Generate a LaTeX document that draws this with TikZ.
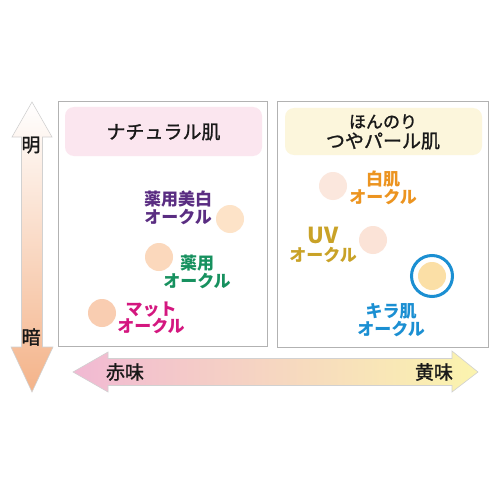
\documentclass[tikz,border=0pt]{standalone}
\usepackage{fontspec}
\newfontfamily\jp{Noto Sans CJK JP}
\newfontfamily\jpm{Noto Sans CJK JP}[UprightFeatures={FakeBold=1.3}]
\definecolor{vorange}{HTML}{F4B389}
\definecolor{vmid}{HTML}{FBE2D0}
\definecolor{hpink}{HTML}{F1B9D3}
\definecolor{hmid}{HTML}{FCE2D6}
\definecolor{hyellow}{HTML}{FBF4AE}
\definecolor{pinkbox}{HTML}{FBE6EF}
\definecolor{yellowbox}{HTML}{FCF6DC}
\definecolor{cpurple}{HTML}{5A2D82}
\definecolor{cgreen}{HTML}{17915F}
\definecolor{cmagenta}{HTML}{D4177F}
\definecolor{corange}{HTML}{EC9420}
\definecolor{cgold}{HTML}{C9A227}
\definecolor{cblue}{HTML}{1B8FD2}
\definecolor{dot1}{HTML}{FDE3C8}
\definecolor{dot2}{HTML}{FBD8BC}
\definecolor{dot3}{HTML}{F9CDB1}
\definecolor{dot4}{HTML}{FBE7DD}
\definecolor{dot5}{HTML}{FBE3D7}
\definecolor{dot6}{HTML}{FBDFA6}
\tikzset{
  panel/.style={draw=black!30, line width=0.8pt, fill=white},
  titlebox/.style={rounded corners=9pt, draw=none},
  titletext/.style={font=\jpm\fontsize{19}{21}\selectfont, text=black!90, align=center},
  axistext/.style={font=\jpm\fontsize{19}{21}\selectfont, text=black!90},
  lbl/.style={font=\jp\bfseries\fontsize{17}{17.5}\selectfont, align=center, inner sep=0pt},
  dot/.style={circle, minimum size=28pt, inner sep=0pt, draw=none},
}
\begin{document}
\begin{tikzpicture}[x=1pt,y=-1pt]
\useasboundingbox (0,0) rectangle (500,500);
\fill[white] (0,0) rectangle (500,500);
% vertical arrow
\path[draw=black!18, line width=0.6pt, top color=white, middle color=vmid, bottom color=vorange]
  (32,102) -- (52,137) -- (42.5,137) -- (42.5,347) -- (53,347) -- (32,392)
  -- (11,347) -- (21.5,347) -- (21.5,137) -- (12,137) -- cycle;
\node[axistext] (ming) at (31,145) {明};
\node[axistext] (an) at (31,337) {暗};
% horizontal arrow
\path[draw=black!18, line width=0.6pt, left color=hpink, middle color=hmid, right color=hyellow]
  (73,372) -- (108,352) -- (108,358.5) -- (452,358.5) -- (452,351) -- (478,372)
  -- (452,392) -- (452,385.5) -- (108,385.5) -- (108,392) -- cycle;
\node[axistext] (aka) at (125,372) {赤味};
\node[axistext] (ki) at (434,372) {黄味};
% panels
\node[panel, minimum width=209pt, minimum height=245pt, inner sep=0pt] (lp) at (162.5,223.5) {};
\node[panel, minimum width=211pt, minimum height=246pt, inner sep=0pt] (rp) at (382.5,224) {};
\fill[pinkbox, titlebox] (65,107) rectangle (262,156);
\fill[yellowbox, titlebox] (285,108) rectangle (482,155);
\node[titletext] (t1) at (163.5,132) {ナチュラル肌};
\node[titletext] (t2) at (383,132) {{\fontsize{17}{19}\selectfont ほんのり}\\[-1pt]つやパール肌};
% left dots and labels
\node[dot, fill=dot1] (d1) at (230,219) {};
\node[dot, fill=dot2] (d2) at (159,257) {};
\node[dot, fill=dot3] (d3) at (102,313) {};
\node[lbl, text=cpurple] (l1) at (178,208) {薬用美白\\オークル};
\node[lbl, text=cgreen] (l2) at (197,272) {薬用\\オークル};
\node[lbl, text=cmagenta] (l3) at (151,318) {マット\\オークル};
% right dots and labels
\node[dot, fill=dot4] (d4) at (333,186) {};
\node[dot, fill=dot5] (d5) at (373,240) {};
\node[dot, fill=dot6] (d6) at (432,276) {};
\draw[cblue, line width=3pt] (d6.center) circle[radius=20.5pt];
\node[lbl, text=corange] (l4) at (383,188) {白肌\\オークル};
\node[lbl, text=cgold] (l5) at (323,245) {{\fontsize{22}{20}\selectfont UV}\\オークル};
\node[lbl, text=cblue] (l6) at (391,320) {キラ肌\\オークル};
\end{tikzpicture}
\end{document}
